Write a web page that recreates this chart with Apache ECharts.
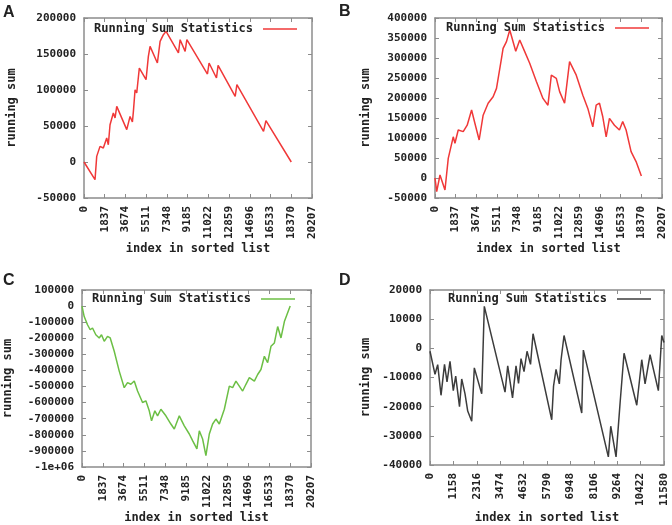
<!DOCTYPE html>
<html>
<head>
<meta charset="utf-8">
<script src="https://cdn.jsdelivr.net/npm/echarts@6/dist/echarts.min.js"></script>
<style>
html,body{margin:0;padding:0;background:#fff;}
#chart{width:672px;height:525px;}
</style>
</head>
<body>
<div id="chart"></div>
<script>
const legendName = 'Running Sum Statistics';
const xTitle = 'index in sorted list';
const yTitle = 'running sum';
const panelLabels = ['A', 'B', 'C', 'D'];

// Panel A
const aIndex = [0,976,1127,1420,1713,2014,2156,2307,2600,2751,2902,3789,4082,4290,4378,4526,4673,4904,5500,5704,5855,6503,6744,7036,7276,8369,8520,8964,9115,10942,11084,11741,11883,13399,13550,15911,16124,18370];
const aSum = [0,-24600,7800,21700,19400,33300,24000,51800,68000,61100,77200,45000,63300,55500,70300,100400,95800,130500,114300,146700,160600,137500,167500,176800,181400,151400,169900,153600,169900,122200,137500,116700,134200,91100,107400,42500,57400,0];

// Panel B
const bIndex = [0,151,444,887,1180,1624,1775,2068,2511,2866,3257,3550,3931,4286,4730,5174,5475,5919,6061,6363,6656,7188,7543,7987,8430,9025,9610,10054,10356,10799,11093,11536,11980,12574,13160,13604,14047,14349,14642,14935,15237,15530,15973,16417,16710,17012,17455,17899,18370];
const bSum = [0,-34000,7500,-30000,49000,103000,87000,120000,116000,132000,170000,137000,95000,157000,187000,203000,224000,299000,324000,341000,370000,317000,345000,316000,287000,241000,199000,182000,257000,249000,216000,187000,291000,257000,207000,174000,128000,182000,187000,153000,103000,149000,132000,120000,141000,120000,66000,41000,5000];

// Panel C
const cIndex = [0,194,486,724,927,1219,1519,1722,1961,2252,2491,2844,3285,3727,4019,4310,4610,4902,5343,5635,5935,6138,6430,6668,6960,7401,7843,8143,8585,9026,9468,9759,10139,10351,10643,10934,11234,11526,11817,12117,12559,13001,13292,13584,14175,14467,14767,15209,15500,15792,16092,16383,16675,16975,17267,17558,17858,18370];
const cSum = [0,-65000,-116000,-147000,-136000,-178000,-198000,-178000,-219000,-188000,-198000,-281000,-404000,-507000,-476000,-486000,-466000,-528000,-599000,-589000,-651000,-713000,-651000,-682000,-641000,-682000,-733000,-764000,-682000,-744000,-795000,-836000,-888000,-775000,-826000,-929000,-795000,-733000,-702000,-733000,-641000,-497000,-507000,-466000,-528000,-486000,-445000,-466000,-425000,-394000,-312000,-352000,-250000,-229000,-127000,-198000,-96000,0];

// Panel D
const dIndex = [0,248,381,545,718,842,990,1153,1272,1460,1569,1733,1866,2064,2193,2559,2688,3713,3846,4084,4257,4381,4505,4653,4802,4975,5099,6024,6113,6237,6400,6485,6633,7509,7549,7589,8826,8945,9207,9405,9603,10232,10479,10643,10890,11301,11469,11580];
const dSum = [-1000,-8900,-5600,-16100,-5500,-11500,-4500,-14500,-9500,-20000,-10500,-15600,-21500,-25000,-6700,-15600,14400,-15000,-6000,-17000,-6000,-12000,-3500,-8000,-1000,-5500,5000,-24500,-13000,-7200,-12200,-4000,4400,-22200,-11000,-600,-37200,-26700,-37200,-18900,-1700,-19500,-3900,-12200,-2200,-14500,4400,2000];

// Axis ranges
const xRanges = [
  {min: 0, max: 20207, interval: 1837},
  {min: 0, max: 20207, interval: 1837},
  {min: 0, max: 20207, interval: 1837},
  {min: 0, max: 11580, interval: 1158}
];
const yRanges = [
  {min: -50000, max: 200000, interval: 50000},
  {min: -50000, max: 400000, interval: 50000},
  {min: -1000000, max: 100000, interval: 100000},
  {min: -40000, max: 20000, interval: 10000}
];

const panels = [
  {x: aIndex, y: aSum, color: '#f03838'},
  {x: bIndex, y: bSum, color: '#f03838'},
  {x: cIndex, y: cSum, color: '#6cbf45'},
  {x: dIndex, y: dSum, color: '#3c3c3c'}
];

const layout = [
  {grid: {left: 84, top: 18, width: 228, height: 180}, legendRight: 375, legendTop: 23, yGap: 66, xGap: 44, label: {left: 3, top: 5}},
  {grid: {left: 435, top: 18, width: 227, height: 180}, legendRight: 23, legendTop: 22, yGap: 63, xGap: 44, label: {left: 339, top: 4}},
  {grid: {left: 82, top: 290, width: 229, height: 178}, legendRight: 377, legendTop: 293, yGap: 68, xGap: 45, label: {left: 3, top: 273}},
  {grid: {left: 430, top: 290, width: 234, height: 176}, legendRight: 21, legendTop: 293, yGap: 58, xGap: 47, label: {left: 339, top: 273}}
];

const mono = 'DejaVu Sans Mono';
const frameColor = '#8c8c8c';
const axisLine = {show: true, onZero: false, lineStyle: {color: frameColor, width: 1.5}};
const axisTick = {show: true, inside: true, length: 4, lineStyle: {color: frameColor, width: 1}};

function yFmt(v) {
  if (v === -1000000) return '-1e+06';
  return String(v);
}

const option = {
  animation: false,
  backgroundColor: '#ffffff',
  title: [], grid: [], xAxis: [], yAxis: [], series: [], legend: []
};

panels.forEach((p, i) => {
  const L = layout[i];
  option.grid.push(Object.assign({containLabel: false}, L.grid));
  option.title.push({
    text: panelLabels[i], left: L.label.left, top: L.label.top, padding: 0,
    textStyle: {fontFamily: 'Liberation Sans', fontWeight: 'bold', fontSize: 16, color: '#222'}
  });
  const xr = xRanges[i], yr = yRanges[i];
  option.xAxis.push({
    type: 'value', gridIndex: i, position: 'bottom', min: xr.min, max: xr.max, interval: xr.interval,
    axisLine, axisTick, splitLine: {show: false},
    axisLabel: {rotate: 90, margin: 8, formatter: (v) => String(v), fontFamily: mono, fontWeight: 'bold', fontSize: 11, color: '#222', showMaxLabel: true, showMinLabel: true},
    name: xTitle, nameLocation: 'middle', nameGap: L.xGap,
    nameTextStyle: {fontFamily: mono, fontWeight: 'bold', fontSize: 12, color: '#222'}
  });
  option.xAxis.push({
    type: 'value', gridIndex: i, position: 'top', min: xr.min, max: xr.max, interval: xr.interval,
    axisLine, axisTick, splitLine: {show: false}, axisLabel: {show: false}
  });
  option.yAxis.push({
    type: 'value', gridIndex: i, position: 'left', min: yr.min, max: yr.max, interval: yr.interval,
    axisLine, axisTick, splitLine: {show: false},
    axisLabel: {margin: 8, formatter: yFmt, fontFamily: mono, fontWeight: 'bold', fontSize: 11, color: '#222', showMaxLabel: true, showMinLabel: true},
    name: yTitle, nameLocation: 'middle', nameGap: L.yGap,
    nameTextStyle: {fontFamily: mono, fontWeight: 'bold', fontSize: 12, color: '#222'}
  });
  option.yAxis.push({
    type: 'value', gridIndex: i, position: 'right', min: yr.min, max: yr.max, interval: yr.interval,
    axisLine, axisTick, splitLine: {show: false}, axisLabel: {show: false}
  });
  const sname = 'panel' + panelLabels[i];
  option.series.push({
    name: sname, type: 'line', xAxisIndex: 2 * i, yAxisIndex: 2 * i,
    data: p.x.map((x, k) => [x, p.y[k]]),
    showSymbol: false, symbol: 'none',
    lineStyle: {color: p.color, width: 1.5}, itemStyle: {color: p.color}
  });
  option.legend.push({
    data: [sname], right: L.legendRight, top: L.legendTop, padding: 0,
    align: 'right', icon: 'rect', itemWidth: 34, itemHeight: 1.5, itemGap: 0,
    formatter: () => legendName,
    textStyle: {fontFamily: mono, fontWeight: 'bold', fontSize: 12, color: '#222', padding: [0, 5, 0, 0]}
  });
});

const chart = echarts.init(document.getElementById('chart'), null, {renderer: 'canvas'});
chart.setOption(option);
</script>
</body>
</html>
